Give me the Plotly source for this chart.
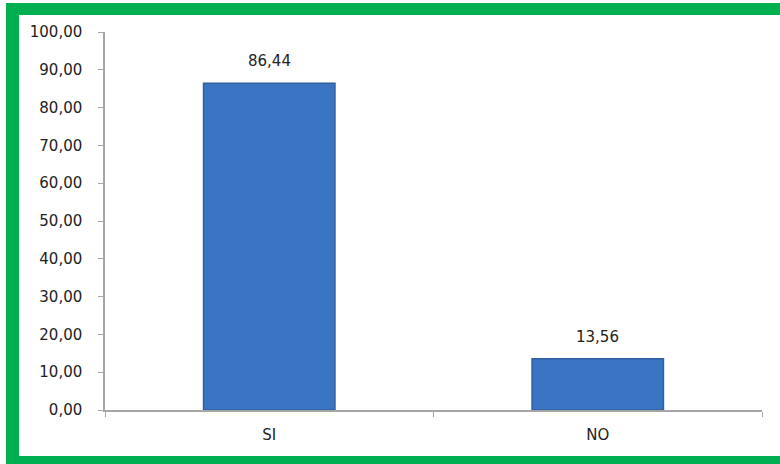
import plotly.graph_objects as go

categories = ["SI", "NO"]
values = [86.44, 13.56]
y_ticks = [0, 10, 20, 30, 40, 50, 60, 70, 80, 90, 100]

W, H = 780, 464
L, R, T, B = 105, 18, 32, 54
pw, ph = W - L - R, H - T - B

def px_x(x):
    return (x - L) / pw

def px_y(y):
    return (H - B - y) / ph

fig = go.Figure()
fig.add_trace(go.Bar(
    x=categories, y=values, width=0.4,
    marker=dict(color="#3a74c2", line=dict(color="#2f5f9f", width=1.5)),
    hoverinfo="skip",
))

for c, v in zip(categories, values):
    fig.add_annotation(x=c, y=v, text=f"{v:.2f}".replace(".", ","),
                       showarrow=False, yanchor="bottom", yshift=11,
                       font=dict(size=15, color="#222222", family="DejaVu Sans"))

green = "#00b050"
fig.add_shape(type="rect", xref="paper", yref="paper",
              x0=px_x(6), x1=px_x(19), y0=px_y(470), y1=px_y(3),
              fillcolor=green, line_width=0, layer="below")
fig.add_shape(type="rect", xref="paper", yref="paper",
              x0=px_x(6), x1=px_x(800), y0=px_y(15), y1=px_y(3),
              fillcolor=green, line_width=0, layer="below")
fig.add_shape(type="rect", xref="paper", yref="paper",
              x0=px_x(6), x1=px_x(800), y0=px_y(470), y1=px_y(456),
              fillcolor=green, line_width=0, layer="below")

fig.update_layout(
    width=W, height=H,
    margin=dict(l=L, r=R, t=T, b=B, pad=0),
    paper_bgcolor="white", plot_bgcolor="white",
    separators=",.",
    showlegend=False,
    font=dict(family="DejaVu Sans", size=15, color="#222222"),
    xaxis=dict(
        type="category", showgrid=False, showline=True, linecolor="#a6a6a6", linewidth=1.5,
        ticks="outside", tickson="boundaries", ticklen=5, tickcolor="#a6a6a6",
        ticklabelstandoff=10, range=[-0.5, 1.5],
    ),
    yaxis=dict(
        range=[0, 100], tickvals=y_ticks, tickformat=".2f", showgrid=False,
        showline=True, linecolor="#a6a6a6", linewidth=1.5,
        ticks="outside", ticklen=5, tickcolor="#a6a6a6", ticklabelstandoff=13,
        zeroline=False,
    ),
)

fig.write_html("out.html", config={"displayModeBar": False},
               post_script="document.body.style.margin='0px';document.body.style.overflow='hidden';")
